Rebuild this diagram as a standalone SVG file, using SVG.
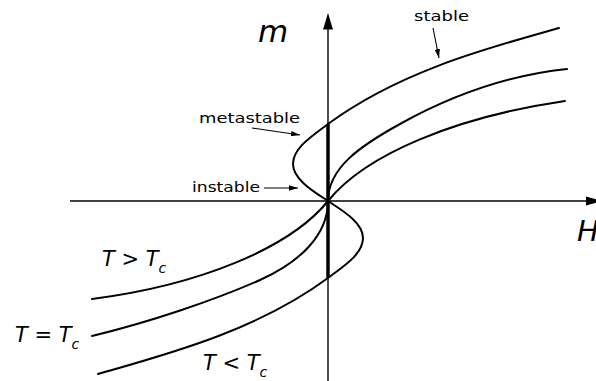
<svg xmlns="http://www.w3.org/2000/svg" width="596" height="381" viewBox="0 0 596 381">
<style>
.axis{stroke:#000;stroke-width:1.4;fill:none}
.curve{stroke:#000;stroke-width:2;fill:none;stroke-linecap:round}
.thick{stroke:#000;stroke-width:3.5;fill:none}
.lead{stroke:#000;stroke-width:1.1;fill:none}
.lbl{font-family:"DejaVu Sans",sans-serif;font-size:14px;fill:#000}
.math{font-family:"DejaVu Sans",sans-serif;font-style:italic;fill:#000}
</style>
<defs>
<marker id="ah" viewBox="0 0 10 6" refX="10" refY="3" markerWidth="9" markerHeight="5.4" markerUnits="userSpaceOnUse" orient="auto">
<path d="M0,0 L10,3 L0,6 Z" fill="#000"/>
</marker>
</defs>
<g id="axes">
<line class="axis" x1="70" y1="201" x2="588" y2="201"/>
<path d="M586,196.5 L603,201 L586,205.5 Z" fill="#000"/>
<line class="axis" x1="328" y1="381" x2="328" y2="27"/>
<path d="M323,29.5 L328,13 L333,29.5 Z" fill="#000"/>
<text class="math" x="258" y="42" font-size="31">m</text>
<text class="math" x="577" y="241" font-size="29">H</text>
</g>
<g id="connectors">
<path class="curve" d="M92,299 C200,285 290,248 328,201 C366,154 456,117 565,101"/>
<path class="curve" d="M92,336 C150,322 215,300 260,280 C300,262 328,235 328,201 C328,168 360,146 400,124 C445,99 500,76 567,69"/>
<path class="curve" d="M98,374 C168,354 256,331 328,278 C344,266 363,254 363,238 C363,222 340,209 328,201 C316,193 293,180 293,164 C293,148 312,136 328,124 C400,71 488,48 559,28"/>
<line class="thick" x1="328" y1="124" x2="328" y2="278"/>
</g>
<g id="label-stable">
<text class="lbl" x="414" y="21" textLength="55" lengthAdjust="spacingAndGlyphs">stable</text>
<line class="lead" x1="433" y1="28" x2="439" y2="58" marker-end="url(#ah)"/>
</g>
<g id="label-metastable">
<text class="lbl" x="199" y="123" textLength="101" lengthAdjust="spacingAndGlyphs">metastable</text>
<line class="lead" x1="252" y1="128" x2="300" y2="135" marker-end="url(#ah)"/>
</g>
<g id="label-instable">
<text class="lbl" x="192" y="192" textLength="68" lengthAdjust="spacingAndGlyphs">instable</text>
<line class="lead" x1="264" y1="188" x2="298" y2="188" marker-end="url(#ah)"/>
</g>
<g id="label-gt">
<text class="math" x="102" y="266" font-size="21">T &gt; T<tspan font-size="14" dy="7">c</tspan></text>
</g>
<g id="label-eq">
<text class="math" x="15" y="342" font-size="21">T = T<tspan font-size="14" dy="7">c</tspan></text>
</g>
<g id="label-lt">
<text class="math" x="203" y="370" font-size="21">T &lt; T<tspan font-size="14" dy="7">c</tspan></text>
</g>
</svg>
